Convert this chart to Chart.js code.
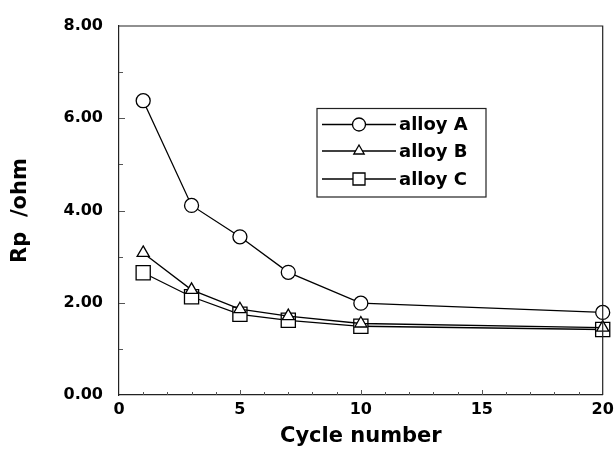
<!DOCTYPE html>
<html><head><meta charset="utf-8">
<script src="https://cdn.jsdelivr.net/npm/chart.js@4/dist/chart.umd.min.js"></script>
<style>html,body{margin:0;padding:0;background:#fff}</style>
</head><body>
<canvas id="c" width="614" height="451" style="display:block;width:614px;height:451px"></canvas>
<script>
// ---- data ----
const cycles = [1, 3, 5, 7, 10, 20];
const alloyA = [6.38, 4.11, 3.43, 2.66, 1.99, 1.79];
const alloyB = [3.08, 2.28, 1.86, 1.71, 1.55, 1.46];
const alloyC = [2.65, 2.13, 1.75, 1.62, 1.49, 1.42];
const seriesNames = ['alloy A', 'alloy B', 'alloy C'];
const pointStyles = ['circle', 'triangle', 'rect'];
const xTickValues = [0, 5, 10, 15, 20];
const yTickValues = [0, 2, 4, 6, 8];
const xTitle = 'Cycle number';
const yTitle = 'Rp  /ohm';

const FONT = '"DejaVu Sans", Arial, sans-serif';
const INK = '#000';

function toPts(ys) { return cycles.map((x, i) => ({x: x, y: ys[i]})); }
const allSeries = [alloyA, alloyB, alloyC];
const radii = [7, 7, 10];

const datasets = allSeries.map((ys, i) => ({
  label: seriesNames[i],
  data: toPts(ys),
  showLine: true,
  borderColor: INK,
  borderWidth: 1.3,
  pointStyle: pointStyles[i],
  pointRadius: radii[i],
  pointHoverRadius: radii[i],
  pointBackgroundColor: '#fff',
  pointBorderColor: INK,
  pointBorderWidth: 1.3,
  tension: 0,
  clip: false
}));

function drawMarker(ctx, style, r, x, y) {
  ctx.beginPath();
  if (style === 'circle') {
    ctx.arc(x, y, r, 0, Math.PI * 2);
  } else if (style === 'triangle') {
    ctx.moveTo(x, y - r);
    ctx.lineTo(x + r * Math.sin(Math.PI * 2 / 3), y + r / 2);
    ctx.lineTo(x - r * Math.sin(Math.PI * 2 / 3), y + r / 2);
    ctx.closePath();
  } else {
    const s = r * Math.SQRT1_2;
    ctx.rect(x - s, y - s, 2 * s, 2 * s);
  }
  ctx.fillStyle = '#fff';
  ctx.fill();
  ctx.stroke();
}

const framePlugin = {
  id: 'frame',
  afterDatasetsDraw(chart) {
    const {ctx, chartArea: a, scales: {x, y}} = chart;
    ctx.save();
    ctx.strokeStyle = '#222';
    ctx.lineWidth = 1.2;
    ctx.beginPath();
    ctx.moveTo(a.left, a.top); ctx.lineTo(a.right, a.top); ctx.lineTo(a.right, a.bottom);
    ctx.stroke();
    ctx.lineWidth = 1;
    ctx.strokeStyle = '#555';
    ctx.beginPath();
    for (let v = 1; v < 20; v++) {
      const px = Math.round(x.getPixelForValue(v)) + 0.5;
      const len = (v % 5 === 0) ? 5 : 3;
      ctx.moveTo(px, a.bottom); ctx.lineTo(px, a.bottom - len);
    }
    for (let v = 1; v < 8; v++) {
      const py = Math.round(y.getPixelForValue(v)) + 0.5;
      const len = (v % 2 === 0) ? 6 : 4;
      ctx.moveTo(a.left, py); ctx.lineTo(a.left + len, py);
    }
    ctx.stroke();
    ctx.restore();
  }
};

const legendPlugin = {
  id: 'boxLegend',
  afterDraw(chart) {
    const ctx = chart.ctx;
    ctx.save();
    ctx.strokeStyle = '#222';
    ctx.lineWidth = 1.2;
    ctx.strokeRect(317, 108.5, 169, 88.5);
    const rowsY = [124.5, 151, 179];
    const lr = [6.5, 6, 8.5];
    chart.data.datasets.forEach((ds, i) => {
      const yy = rowsY[i];
      ctx.strokeStyle = INK;
      ctx.lineWidth = 1.3;
      ctx.beginPath(); ctx.moveTo(322, yy); ctx.lineTo(396, yy); ctx.stroke();
      drawMarker(ctx, ds.pointStyle, lr[i], 359, yy);
      ctx.fillStyle = INK;
      ctx.font = 'bold 18px ' + FONT;
      ctx.textAlign = 'left';
      ctx.textBaseline = 'alphabetic';
      ctx.fillText(ds.label, 399, yy + 5.5);
    });
    ctx.restore();
  }
};

new Chart(document.getElementById('c'), {
  type: 'scatter',
  data: {datasets},
  plugins: [framePlugin, legendPlugin],
  options: {
    responsive: false,
    animation: false,
    events: [],
    layout: {padding: {top: 26, right: 10, left: 0, bottom: 0}},
    plugins: {legend: {display: false}, tooltip: {enabled: false}},
    scales: {
      x: {
        type: 'linear', min: 0, max: 20,
        afterBuildTicks(s) { s.ticks = xTickValues.map(v => ({value: v})); },
        afterFit(s) { s.height = 56; s.paddingLeft = 0; s.paddingRight = 0; },
        grid: {display: false, drawTicks: false},
        border: {display: true, color: '#222', width: 1.2},
        ticks: {color: INK, font: {family: FONT, size: 16, weight: 'bold'}, padding: 5, maxRotation: 0,
                callback: v => String(v)},
        title: {display: true, text: xTitle, color: INK, font: {family: FONT, size: 21, weight: 'bold'},
                padding: {top: 0, bottom: 2}}
      },
      y: {
        type: 'linear', min: 0, max: 8,
        afterBuildTicks(s) { s.ticks = yTickValues.map(v => ({value: v})); },
        afterFit(s) { s.width = 119; },
        grid: {display: false, drawTicks: false},
        border: {display: true, color: '#222', width: 1.2},
        ticks: {color: INK, font: {family: FONT, size: 16, weight: 'bold'}, padding: 16,
                callback: v => Number(v).toFixed(2)},
        title: {display: true, text: yTitle, color: INK, font: {family: FONT, size: 21, weight: 'bold'},
                padding: {top: 8, bottom: 0}}
      }
    }
  }
});
</script>
</body></html>
